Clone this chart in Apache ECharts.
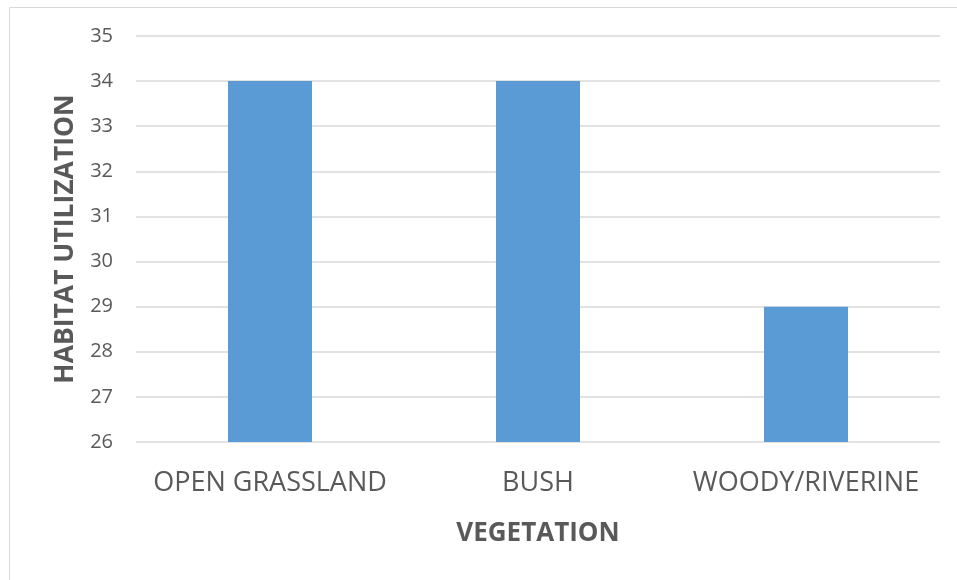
<!DOCTYPE html>
<html>
<head>
<meta charset="utf-8">
<script src="https://cdn.jsdelivr.net/npm/echarts@6/dist/echarts.min.js"></script>
<style>
  html, body { margin: 0; padding: 0; background: #ffffff; }
  #chart { width: 957px; height: 580px; }
</style>
</head>
<body>
<div id="chart"></div>
<script>
// Vegetation types and habitat utilization counts
const categories = ['OPEN GRASSLAND', 'BUSH', 'WOODY/RIVERINE'];
const utilization = [34, 34, 29];
const yMin = 26;
const yMax = 35;

const textColor = '#595959';
const fontFamily = '"Open Sans", "Liberation Sans", sans-serif';

const chart = echarts.init(document.getElementById('chart'), null, { renderer: 'canvas' });

chart.setOption({
  animation: false,
  backgroundColor: '#ffffff',
  graphic: [{
    type: 'rect',
    shape: { x: 9.5, y: 7.5, width: 1000, height: 1000 },
    style: { fill: 'none', stroke: '#d9d9d9', lineWidth: 1 },
    silent: true
  }],
  grid: { left: 136, right: 17, top: 36, bottom: 138 },
  xAxis: {
    type: 'category',
    data: categories,
    axisTick: { show: false },
    axisLine: { show: false },
    axisLabel: {
      interval: 0,
      hideOverlap: false,
      color: textColor,
      fontFamily: fontFamily,
      fontSize: 27,
      margin: 28
    },
    name: 'VEGETATION',
    nameLocation: 'middle',
    nameGap: 79,
    nameTextStyle: {
      color: textColor,
      fontFamily: fontFamily,
      fontSize: 26,
      fontWeight: 'bold'
    }
  },
  yAxis: {
    type: 'value',
    min: yMin,
    max: yMax,
    interval: 1,
    axisLine: { show: false },
    axisTick: { show: false },
    splitLine: { lineStyle: { color: '#d9d9d9', width: 1.5 } },
    axisLabel: {
      color: textColor,
      fontFamily: fontFamily,
      fontSize: 20,
      margin: 23
    },
    name: 'HABITAT UTILIZATION',
    nameLocation: 'middle',
    nameGap: 56,
    nameTextStyle: {
      color: textColor,
      fontFamily: fontFamily,
      fontSize: 26.5,
      fontWeight: 'bold'
    }
  },
  series: [{
    type: 'bar',
    data: utilization,
    barWidth: 84,
    itemStyle: { color: '#5b9bd5' }
  }]
});
</script>
</body>
</html>
